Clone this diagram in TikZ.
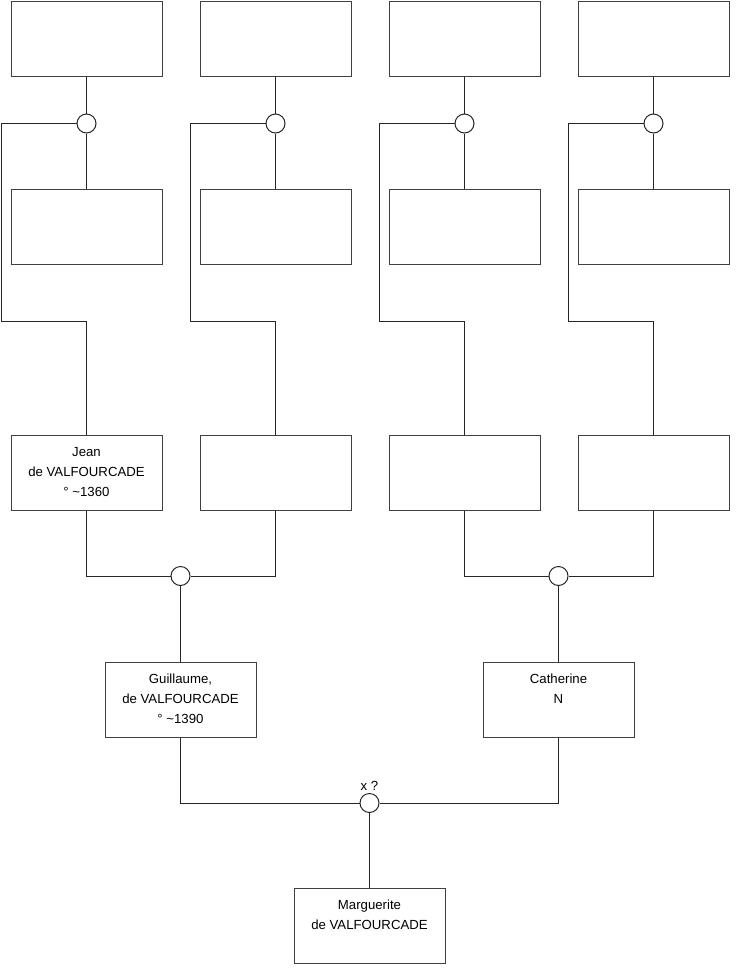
\documentclass[tikz,border=0pt]{standalone}
\usepackage{fontspec}
\setmainfont{Liberation Sans}
\begin{document}
\begin{tikzpicture}[x=1pt,y=-1pt,
  box/.style={draw=black!75, line width=1pt, minimum width=151pt, minimum height=75pt, inner sep=0pt, align=center, font=\fontsize{13.2}{20}\selectfont},
  union/.style={circle, draw=black!85, line width=1pt, minimum size=19pt, inner sep=0pt, fill=white},
  link/.style={draw=black!85, line width=1pt},
  lbl/.style={font=\fontsize{13.2}{15}\selectfont, inner sep=0pt}]
\useasboundingbox (0,0) rectangle (740,975);
% top row
\node[box] (t1) at (86.5,38.5) {};
\node[box] (t2) at (275.5,38.5) {};
\node[box] (t3) at (464.5,38.5) {};
\node[box] (t4) at (653.5,38.5) {};
% second row
\node[box] (s1) at (86.5,227) {};
\node[box] (s2) at (275.5,227) {};
\node[box] (s3) at (464.5,227) {};
\node[box] (s4) at (653.5,227) {};
% third row
\node[box] (b1) at (86.5,472.5) {\strut Jean\\\strut de VALFOURCADE\\\strut ° \textasciitilde1360};
\node[box] (b2) at (275.5,472.5) {};
\node[box] (b3) at (464.5,472.5) {};
\node[box] (b4) at (653.5,472.5) {};
% parents
\node[box] (g) at (180.5,699.5) {\strut Guillaume,\\\strut de VALFOURCADE\\\strut ° \textasciitilde1390};
\node[box] (c) at (558.5,699.5) {\strut Catherine\\\strut N\\\strut};
\node[box] (m) at (369.5,925.5) {\strut Marguerite\\\strut de VALFOURCADE\\\strut};
% union circles
\node[union] (u1) at (86.5,123.5) {};
\node[union] (u2) at (275.5,123.5) {};
\node[union] (u3) at (464.5,123.5) {};
\node[union] (u4) at (653.5,123.5) {};
\node[union] (u5) at (180.5,576) {};
\node[union] (u6) at (558.5,576) {};
\node[union] (u7) at (369.5,803) {};
\node[lbl] (x) at (369.5,786) {x ?};
% corner coordinates
\coordinate (a1) at (1.5,123.5);   \coordinate (d1) at (1.5,321);
\coordinate (a2) at (190.5,123.5); \coordinate (d2) at (190.5,321);
\coordinate (a3) at (379.5,123.5); \coordinate (d3) at (379.5,321);
\coordinate (a4) at (568.5,123.5); \coordinate (d4) at (568.5,321);
% top connectors
\foreach \i in {1,2,3,4}{
  \draw[link] (t\i) -- (u\i);
  \draw[link] (u\i) -- (s\i);
  \draw[link] (u\i.west) -- (a\i) -- (d\i) -| (b\i.north);
}
% third row to parents
\draw[link] (b1.south) |- (u5.west);
\draw[link] (b2.south) |- (u5.east);
\draw[link] (u5) -- (g);
\draw[link] (b3.south) |- (u6.west);
\draw[link] (b4.south) |- (u6.east);
\draw[link] (u6) -- (c);
% parents to child
\draw[link] (g.south) |- (u7.west);
\draw[link] (c.south) |- (u7.east);
\draw[link] (u7) -- (m);
\end{tikzpicture}
\end{document}
